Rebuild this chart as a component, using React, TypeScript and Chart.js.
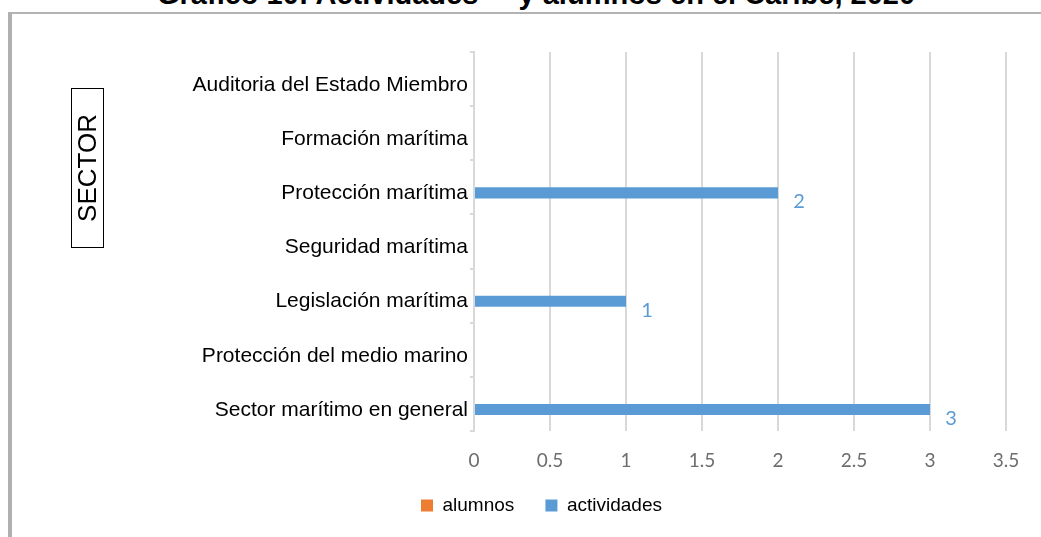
import React, { useEffect, useRef } from "react";
import { Chart, registerables } from "chart.js";

Chart.register(...registerables);

const categories = [
  "Auditoria del Estado Miembro",
  "Formación marítima",
  "Protección marítima",
  "Seguridad marítima",
  "Legislación marítima",
  "Protección del medio marino",
  "Sector marítimo en general",
];
const alumnos = [0, 0, 0, 0, 0, 0, 0];
const actividades = [0, 0, 2, 0, 1, 0, 3];
const seriesNames = ["alumnos", "actividades"];
const seriesColors = ["#ed7d31", "#5b9bd5"];
const axisTitle = "SECTOR";
const chartTitle = "Gráfico 10: Actividades     y alumnos en el Caribe, 2020";

const dataLabelPlugin = {
  id: "dataLabels",
  afterDatasetsDraw(chart: any) {
    const ctx = chart.ctx;
    const meta = chart.getDatasetMeta(1);
    ctx.save();
    ctx.font = "20px Lato, 'Open Sans', sans-serif";
    ctx.fillStyle = "#5b9bd5";
    ctx.textAlign = "center";
    ctx.textBaseline = "middle";
    meta.data.forEach((bar: any, i: number) => {
      const v = actividades[i];
      if (!v) return;
      ctx.fillText(String(v), bar.x + 21, bar.y + 9);
    });
    ctx.restore();
  },
};

const sectorBoxPlugin = {
  id: "sectorBox",
  afterDraw(chart: any) {
    const ctx = chart.ctx;
    ctx.save();
    ctx.strokeStyle = "#000";
    ctx.lineWidth = 1;
    ctx.strokeRect(71.5, 88.5, 32, 159);
    ctx.translate(87.5, 168);
    ctx.rotate(-Math.PI / 2);
    ctx.font = "26px 'Liberation Sans', Arial, sans-serif";
    ctx.fillStyle = "#000";
    ctx.textAlign = "center";
    ctx.textBaseline = "middle";
    ctx.fillText(axisTitle, 0, 1);
    ctx.restore();
  },
};

export default function App() {
  const ref = useRef<HTMLCanvasElement | null>(null);
  useEffect(() => {
    if (!ref.current) return;
    const chart = new Chart(ref.current, {
      type: "bar",
      data: {
        labels: categories,
        datasets: [
          { label: seriesNames[0], data: alumnos, backgroundColor: seriesColors[0], borderWidth: 0 },
          { label: seriesNames[1], data: actividades, backgroundColor: seriesColors[1], borderWidth: 0 },
        ],
      },
      options: {
        indexAxis: "y",
        responsive: false,
        animation: false,
        datasets: {
          bar: { categoryPercentage: 0.41, barPercentage: 1 },
        },
        layout: { padding: { left: 77, right: 35, top: 52, bottom: 12 } },
        scales: {
          x: {
            min: 0,
            max: 3.5,
            ticks: {
              stepSize: 0.5,
              color: "#6d6d6d",
              font: { family: "Lato, 'Open Sans', sans-serif", size: 19 },
              padding: 18,
              callback: (v: any) => String(Number(v)),
            },
            grid: { color: "#d9d9d9", lineWidth: 2, drawTicks: false },
            border: { display: false },
            afterFit: (scale: any) => {
              scale.height = 55;
            },
          },
          y: {
            ticks: {
              color: "#000",
              font: { family: "'Liberation Sans', Arial, sans-serif", size: 21 },
              padding: 2,
              labelOffset: 6,
              autoSkip: false,
            },
            grid: { drawOnChartArea: false, drawTicks: true, tickLength: 4, color: "#d9d9d9", lineWidth: 2 },
            border: { display: true, color: "#d9d9d9", width: 2 },
            afterFit: (scale: any) => {
              scale.width = 397;
            },
          },
        },
        plugins: {
          legend: {
            position: "bottom",
            labels: {
              boxWidth: 12,
              boxHeight: 12,
              padding: 10,
              color: "#000",
              font: { family: "'Liberation Sans', Arial, sans-serif", size: 19 },
              generateLabels: (chart: any) => {
                const items = Chart.defaults.plugins.legend.labels.generateLabels(chart);
                return items.map((it: any, i: number) => ({
                  ...it,
                  text: i < items.length - 1 ? it.text + "    " : it.text,
                }));
              },
            },
          },
          tooltip: { enabled: false },
          title: { display: false },
        },
      },
      plugins: [dataLabelPlugin, sectorBoxPlugin],
    } as any);
    return () => chart.destroy();
  }, []);

  return (
    <div style={{ position: "absolute", left: 0, top: 0, width: 1041, height: 537, overflow: "hidden", background: "#fff" }}>
      <div
        style={{
          position: "absolute",
          left: 8,
          top: 12,
          width: 1041,
          height: 600,
          borderTop: "2px solid #b3b3b3",
          borderLeft: "4px solid #b0b0b0",
        }}
      />
      <div
        style={{
          position: "absolute",
          left: 157,
          top: -20,
          fontFamily: "'Liberation Sans', Arial, sans-serif",
          fontWeight: "bold",
          fontSize: 29,
          lineHeight: "29px",
          whiteSpace: "pre",
          color: "#000",
        }}
      >
        {chartTitle}
      </div>
      <canvas ref={ref} width={1041} height={537} style={{ position: "absolute", left: 0, top: 0 }} />
    </div>
  );
}
